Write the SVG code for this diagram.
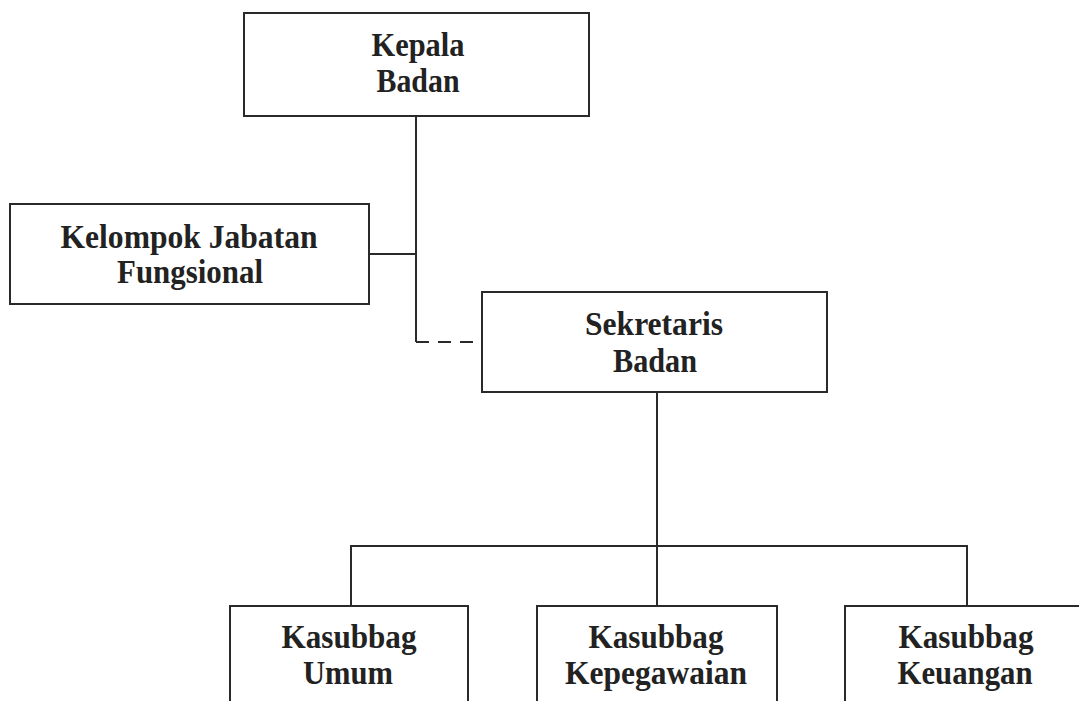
<svg xmlns="http://www.w3.org/2000/svg" width="1079" height="701" viewBox="0 0 1079 701">
<style>
.box{fill:#fff;stroke:#2a2a2a;stroke-width:2}
.ln{fill:none;stroke:#2a2a2a;stroke-width:2}
.dash{stroke-dasharray:13 9}
text{font-family:"Liberation Serif","Times New Roman",serif;font-weight:bold;font-size:33px;fill:#222;text-anchor:middle}
</style>
<rect width="1079" height="701" fill="#fff"/>
<g id="connectors">
<path class="ln" d="M416 116V342"/>
<path class="ln" d="M369 254H416"/>
<path class="ln dash" d="M416 342H482"/>
<path class="ln" d="M657 392V606"/>
<path class="ln" d="M351 606V546H967V606"/>
</g>
<g id="kepala">
<rect class="box" x="244" y="13" width="345" height="103"/>
<text x="418" y="56" textLength="93" lengthAdjust="spacingAndGlyphs">Kepala</text>
<text x="418" y="92" textLength="83" lengthAdjust="spacingAndGlyphs">Badan</text>
</g>
<g id="kelompok">
<rect class="box" x="10" y="204" width="359" height="100"/>
<text x="189" y="248" textLength="257" lengthAdjust="spacingAndGlyphs">Kelompok Jabatan</text>
<text x="190" y="283" textLength="146" lengthAdjust="spacingAndGlyphs">Fungsional</text>
</g>
<g id="sekretaris">
<rect class="box" x="482" y="292" width="345" height="100"/>
<text x="654" y="335" textLength="138" lengthAdjust="spacingAndGlyphs">Sekretaris</text>
<text x="655" y="372" textLength="84" lengthAdjust="spacingAndGlyphs">Badan</text>
</g>
<g id="umum">
<rect class="box" x="230" y="606" width="238" height="120"/>
<text x="349" y="648" textLength="135" lengthAdjust="spacingAndGlyphs">Kasubbag</text>
<text x="348" y="684" textLength="90" lengthAdjust="spacingAndGlyphs">Umum</text>
</g>
<g id="kepegawaian">
<rect class="box" x="537" y="606" width="240" height="120"/>
<text x="656" y="648" textLength="135" lengthAdjust="spacingAndGlyphs">Kasubbag</text>
<text x="656" y="684" textLength="182" lengthAdjust="spacingAndGlyphs">Kepegawaian</text>
</g>
<g id="keuangan">
<rect class="box" x="845" y="606" width="260" height="120"/>
<text x="966" y="648" textLength="135" lengthAdjust="spacingAndGlyphs">Kasubbag</text>
<text x="965" y="684" textLength="135" lengthAdjust="spacingAndGlyphs">Keuangan</text>
</g>
</svg>
